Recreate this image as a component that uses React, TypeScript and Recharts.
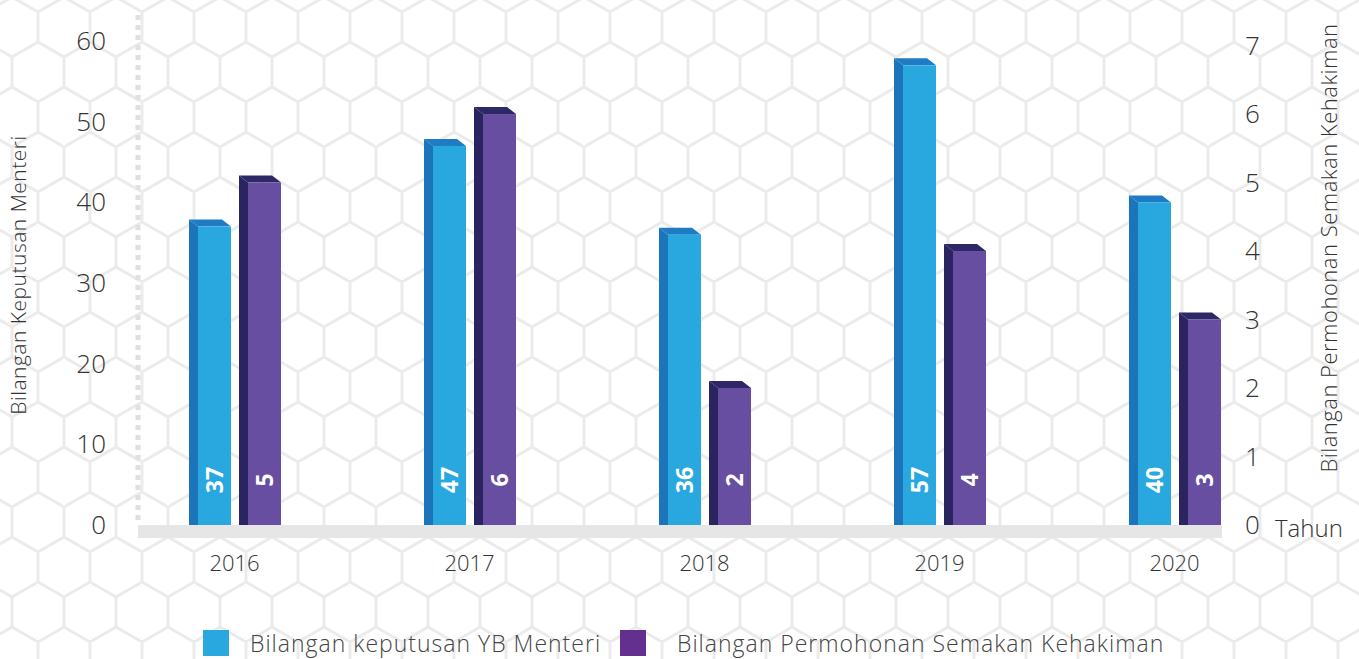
import React from "react";
import { BarChart, Bar, XAxis, YAxis, Legend, LabelList } from "recharts";

const years = ["2016", "2017", "2018", "2019", "2020"];
const keputusan = [37, 47, 36, 57, 40];
const permohonan = [5, 6, 2, 4, 3];
const leftTicks = [0, 10, 20, 30, 40, 50, 60];
const rightTicks = [0, 1, 2, 3, 4, 5, 6, 7];
const seriesNames = ["Bilangan keputusan YB Menteri", "Bilangan Permohonan Semakan Kehakiman"];
const legendColors = ["#29a8e0", "#63308f"];

const data = years.map((tahun, i) => ({
  tahun,
  keputusan: keputusan[i],
  permohonan: permohonan[i],
}));

const FONT = "'Open Sans', sans-serif";
const W = 1359;
const H = 659;

const blue = { front: "#29a8e0", side: "#1c74bb", top: "#1f7cc4" };
const purple = { front: "#674ea0", side: "#2a2460", top: "#2e2866" };

function Bar3D(props: any) {
  const { x, y, width, height, colors } = props;
  if (!height || height <= 0) return null;
  const d = 9;
  const up = 7;
  const b = y + height;
  return (
    <g>
      <polygon
        points={`${x},${y - up} ${x + d},${y} ${x + d},${b} ${x},${b}`}
        fill={colors.side}
      />
      <polygon
        points={`${x},${y - up} ${x + width - d},${y - up} ${x + width},${y} ${x + d},${y}`}
        fill={colors.top}
      />
      <rect x={x + d} y={y} width={width - d} height={height} fill={colors.front} />
    </g>
  );
}

function ValueLabel(props: any) {
  const { x, y, width, height, value } = props;
  const cx = x + 9 + (width - 9) / 2 + 8;
  const cy = y + height - 45;
  return (
    <text
      transform={`translate(${cx}, ${cy}) rotate(-90)`}
      textAnchor="middle"
      fill="#fff"
      fontFamily={FONT}
      fontWeight={700}
      fontSize={23}
    >
      {value}
    </text>
  );
}

const LeftTick = (props: any) => (
  <text x={106} y={props.y} dy={9} textAnchor="end" fontSize={26} fill="#333" fontFamily={FONT} fontWeight={300}>
    {props.payload.value}
  </text>
);

const RightTick = (props: any) => (
  <text x={1245} y={props.y} dy={9} textAnchor="start" fontSize={26} fill="#333" fontFamily={FONT} fontWeight={300}>
    {props.payload.value}
  </text>
);

const YearTick = (props: any) => (
  <text x={props.x} y={571} textAnchor="middle" fontSize={22} fill="#333" fontFamily={FONT} fontWeight={300}>
    {props.payload.value}
  </text>
);

function LegendContent() {
  const lefts = [203, 620];
  const textGap = [47, 57];
  return (
    <div style={{ position: "relative", height: 31, width: W, fontFamily: FONT }}>
      {seriesNames.map((name, i) => (
        <React.Fragment key={name}>
          <div
            style={{
              position: "absolute",
              left: lefts[i],
              top: 2,
              width: 26,
              height: 26,
              background: legendColors[i],
            }}
          />
          <div
            style={{
              position: "absolute",
              left: lefts[i] + textGap[i],
              top: 0,
              fontSize: 23,
              letterSpacing: 1,
              lineHeight: "30px",
              color: "#444",
              fontWeight: 300,
              whiteSpace: "nowrap",
            }}
          >
            {name}
          </div>
        </React.Fragment>
      ))}
    </div>
  );
}

function Background() {
  return (
    <svg width={W} height={H} style={{ position: "absolute", left: 0, top: 0 }}>
      <defs>
        <pattern id="hex" x={12} y={12} width={52} height={90} patternUnits="userSpaceOnUse">
          <path
            d="M26,0 L26,30 M26,30 L0,45 M26,30 L52,45 M0,45 L0,75 M52,45 L52,75 M0,75 L26,90 M52,75 L26,90"
            stroke="#ebebeb"
            strokeWidth={3}
            fill="none"
          />
        </pattern>
      </defs>
      <rect width={W} height={H} fill="#fff" />
      <rect width={W} height={H} fill="url(#hex)" />
      <line x1={138} y1={15} x2={138} y2={525} stroke="#e0e0e0" strokeWidth={5} strokeDasharray="5 5" />
      <rect x={138} y={525} width={1084} height={13} fill="#e6e6e6" />
    </svg>
  );
}

export default function App() {
  return (
    <div style={{ position: "absolute", left: 0, top: 0, width: W, height: H, overflow: "hidden" }}>
      <Background />
      <div style={{ position: "absolute", left: 0, top: 0 }}>
        <BarChart
          width={W}
          height={H}
          data={data}
          margin={{ top: 25, right: 7, bottom: 0, left: 57 }}
          barSize={42}
          barGap={8}
        >
          <XAxis
            dataKey="tahun"
            axisLine={false}
            tickLine={false}
            height={103}
            tick={YearTick}
            interval={0}
            label={{
              content: () => (
                <text x={1275} y={537} fontSize={24} fill="#333" fontFamily={FONT} fontWeight={300}>
                  Tahun
                </text>
              ),
            }}
          />
          <YAxis
            yAxisId="left"
            domain={[0, 62]}
            ticks={leftTicks}
            axisLine={false}
            tickLine={false}
            width={60}
            tick={LeftTick}
            label={{
              content: () => (
                <text
                  transform="translate(26, 275) rotate(-90)"
                  textAnchor="middle"
                  fontSize={21}
                  letterSpacing={0.5}
                  fill="#333"
                  fontFamily={FONT}
                  fontWeight={300}
                >
                  Bilangan Keputusan Menteri
                </text>
              ),
            }}
          />
          <YAxis
            yAxisId="right"
            orientation="right"
            domain={[0, 7.3]}
            ticks={rightTicks}
            axisLine={false}
            tickLine={false}
            width={60}
            tick={RightTick}
            label={{
              content: () => (
                <text
                  transform="translate(1337, 248) rotate(-90)"
                  textAnchor="middle"
                  fontSize={22}
                  letterSpacing={0.5}
                  fill="#333"
                  fontFamily={FONT}
                  fontWeight={300}
                >
                  Bilangan Permohonan Semakan Kehakiman
                </text>
              ),
            }}
          />
          <Legend
            verticalAlign="bottom"
            wrapperStyle={{ left: 0, bottom: 0, width: W, height: 31 }}
            content={LegendContent}
          />
          <Bar
            yAxisId="left"
            dataKey="keputusan"
            name={seriesNames[0]}
            fill={blue.front}
            isAnimationActive={false}
            shape={(p: any) => <Bar3D {...p} colors={blue} />}
          >
            <LabelList dataKey="keputusan" content={ValueLabel} />
          </Bar>
          <Bar
            yAxisId="right"
            dataKey="permohonan"
            name={seriesNames[1]}
            fill={purple.front}
            isAnimationActive={false}
            shape={(p: any) => <Bar3D {...p} colors={purple} />}
          >
            <LabelList dataKey="permohonan" content={ValueLabel} />
          </Bar>
        </BarChart>
      </div>
    </div>
  );
}
